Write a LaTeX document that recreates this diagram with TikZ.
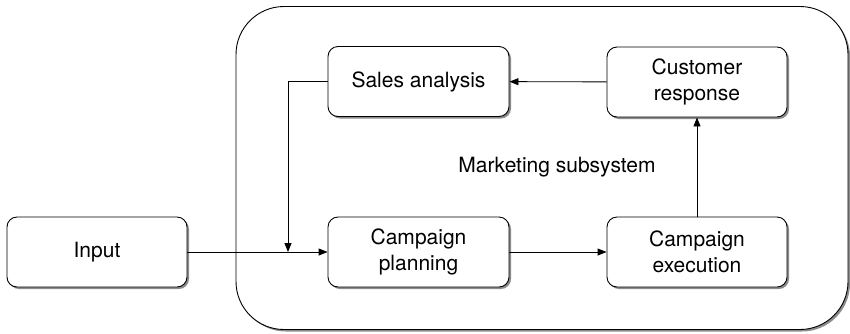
\documentclass[tikz,border=0pt]{standalone}
\usepackage{fontspec}
\setmainfont{TeX Gyre Heros}
\usetikzlibrary{shadows,arrows.meta}
\begin{document}
\begin{tikzpicture}[x=1pt,y=-1pt,
  box/.style={draw=black,line width=0.9pt,rounded corners=10pt,fill=white,
    minimum width=181pt,minimum height=70pt,align=center,font=\fontsize{21}{26}\selectfont,
    drop shadow={shadow xshift=2pt,shadow yshift=-2pt,fill=black!45,opacity=1}},
  conn/.style={line width=0.9pt,-{Triangle[length=9pt,width=7pt]}}]
\useasboundingbox (0,0) rectangle (850,333);
\node[draw=black,line width=0.9pt,rounded corners=48pt,fill=white,minimum width=612pt,minimum height=323pt,
  drop shadow={shadow xshift=2pt,shadow yshift=-2pt,fill=black!45,opacity=1}] (sys) at (542,168) {};
\node[box,minimum width=180pt] (in) at (97,252) {Input};
\node[box] (sa) at (418.5,81.5) {Sales analysis};
\node[box,minimum width=180pt] (cr) at (697,82) {Customer\\response};
\node[box] (cp) at (418.5,252) {Campaign\\planning};
\node[box,minimum width=180pt] (ce) at (697,252) {Campaign\\execution};
\node[font=\fontsize{21}{26}\selectfont] (lbl) at (557,167) {Marketing subsystem};
\coordinate (j) at (288,252);
\draw[conn] (in) -- (cp);
\draw[conn] (sa.west) -| (j);
\draw[conn] (cr) -- (sa);
\draw[conn] (cp) -- (ce);
\draw[conn] (ce) -- (cr);
\end{tikzpicture}
\end{document}
